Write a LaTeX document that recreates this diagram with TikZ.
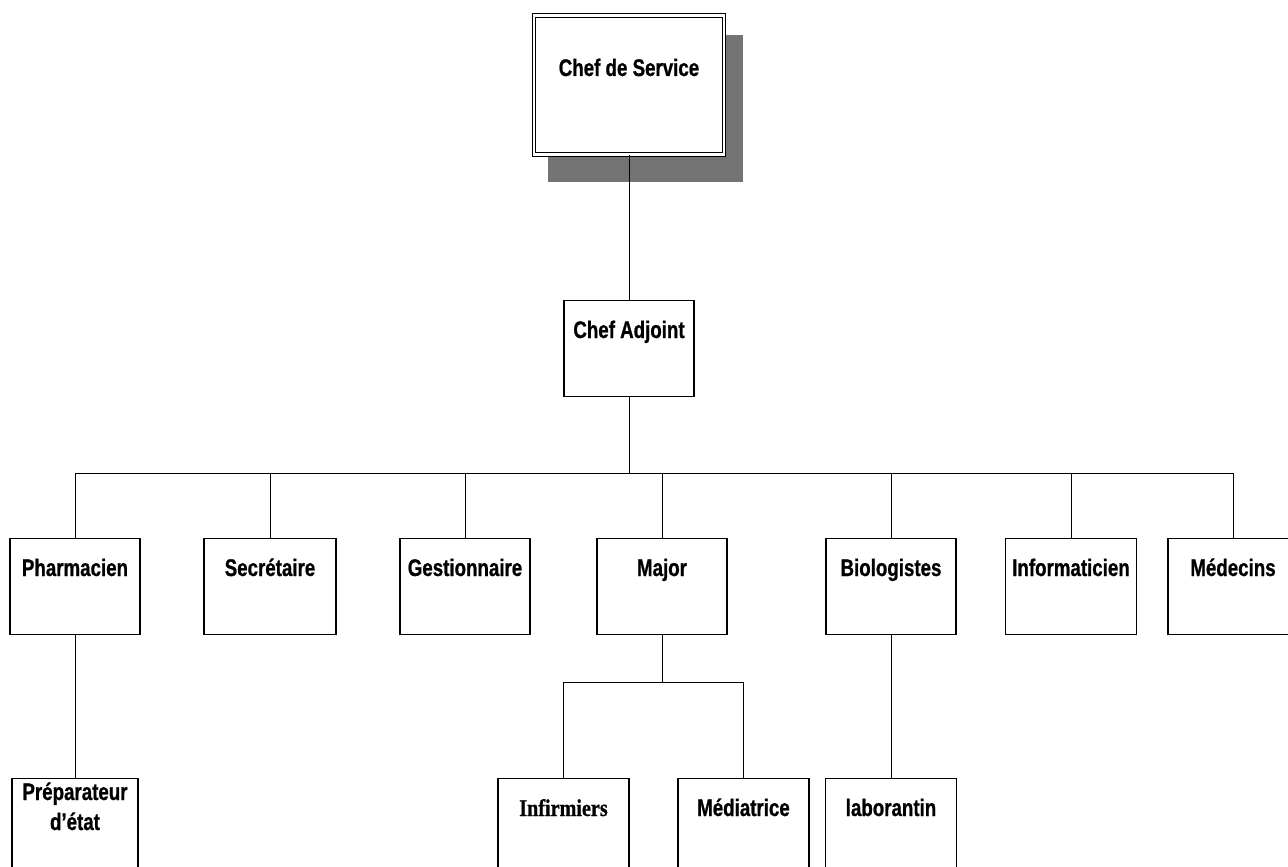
\documentclass[tikz,border=0pt]{standalone}
\usepackage{fontspec}
\setmainfont{Liberation Sans}[FakeStretch=0.78, BoldFeatures={FakeBold=0.8}]
\newfontfamily\serifnarrow{Liberation Serif}[FakeStretch=0.84, BoldFeatures={FakeBold=0.8}]
\begin{document}
\begin{tikzpicture}[x=1pt,y=-1pt,
  box/.style={draw, line width=1.3pt, minimum width=130pt, minimum height=96pt, anchor=north, inner sep=0pt, fill=white},
  lowbox/.style={box, minimum height=110pt},
  lbl/.style={font=\fontsize{24}{28}\selectfont\bfseries, inner sep=0pt, anchor=base, yshift=-38pt},
  conn/.style={line width=0.8pt},
  shadowfill/.style={fill=black!55}
]
\useasboundingbox (0,0) rectangle (1288,867);
\clip (0,0) rectangle (1288,867);
% top box with shadow
\fill[shadowfill] (548,35) rectangle (743,182);
\node[draw, fill=white, line width=1.1pt, double, double distance=2.2pt, minimum width=190pt, minimum height=139pt, anchor=north, inner sep=0pt,
  label={[lbl, name=cdsT, yshift=-23pt]north:Chef de Service}] (cds) at (629,15) {};
\node[box, label={[lbl, name=caT]north:Chef Adjoint}] (ca) at (629,300) {};
% level 2
\node[box, label={[lbl, name=phT]north:Pharmacien}] (ph) at (75,538) {};
\node[box, minimum width=132pt, label={[lbl, name=secT]north:Secrétaire}] (sec) at (270,538) {};
\node[box, label={[lbl, name=gesT]north:Gestionnaire}] (ges) at (465,538) {};
\node[box, label={[lbl, name=majT]north:Major}] (maj) at (662,538) {};
\node[box, label={[lbl, name=bioT]north:Biologistes}] (bio) at (891,538) {};
\node[box, minimum width=131pt, label={[lbl, name=infoT]north:Informaticien}] (info) at (1071,538) {};
\node[box, label={[lbl, name=medT]north:Médecins}] (med) at (1233,538) {};
% level 3
\node[lowbox, minimum width=126pt,
  label={[lbl, name=prepT, yshift=16pt]north:Préparateur},
  label={[lbl, name=prepT2, yshift=-14pt]north:d’état}] (prep) at (75,778) {};
\node[lowbox, minimum width=131pt, label={[lbl, name=infT, font=\fontsize{24}{28}\selectfont\serifnarrow\bfseries]north:Infirmiers}] (inf) at (563.5,778) {};
\node[lowbox, minimum width=131pt, label={[lbl, name=mdtT]north:Médiatrice}] (mdt) at (743.5,778) {};
\node[lowbox, minimum width=131pt, label={[lbl, name=labT]north:laborantin}] (lab) at (891,778) {};
% connectors
\coordinate (bar) at (629,473);
\coordinate (mbar) at (662,682);
\draw[conn] (cds.south) -- (ca.north);
\draw[conn] (ca.south) -- (bar);
\draw[conn] (ph.north) -- (ph.north |- bar) -- (med.north |- bar) -- (med.north);
\draw[conn] (sec.north) -- (sec.north |- bar);
\draw[conn] (ges.north) -- (ges.north |- bar);
\draw[conn] (maj.north) -- (maj.north |- bar);
\draw[conn] (bio.north) -- (bio.north |- bar);
\draw[conn] (info.north) -- (info.north |- bar);
\draw[conn] (ph.south) -- (prep.north);
\draw[conn] (maj.south) -- (mbar);
\draw[conn] (inf.north) -- (inf.north |- mbar) -- (mdt.north |- mbar) -- (mdt.north);
\draw[conn] (bio.south) -- (lab.north);
\end{tikzpicture}
\end{document}
